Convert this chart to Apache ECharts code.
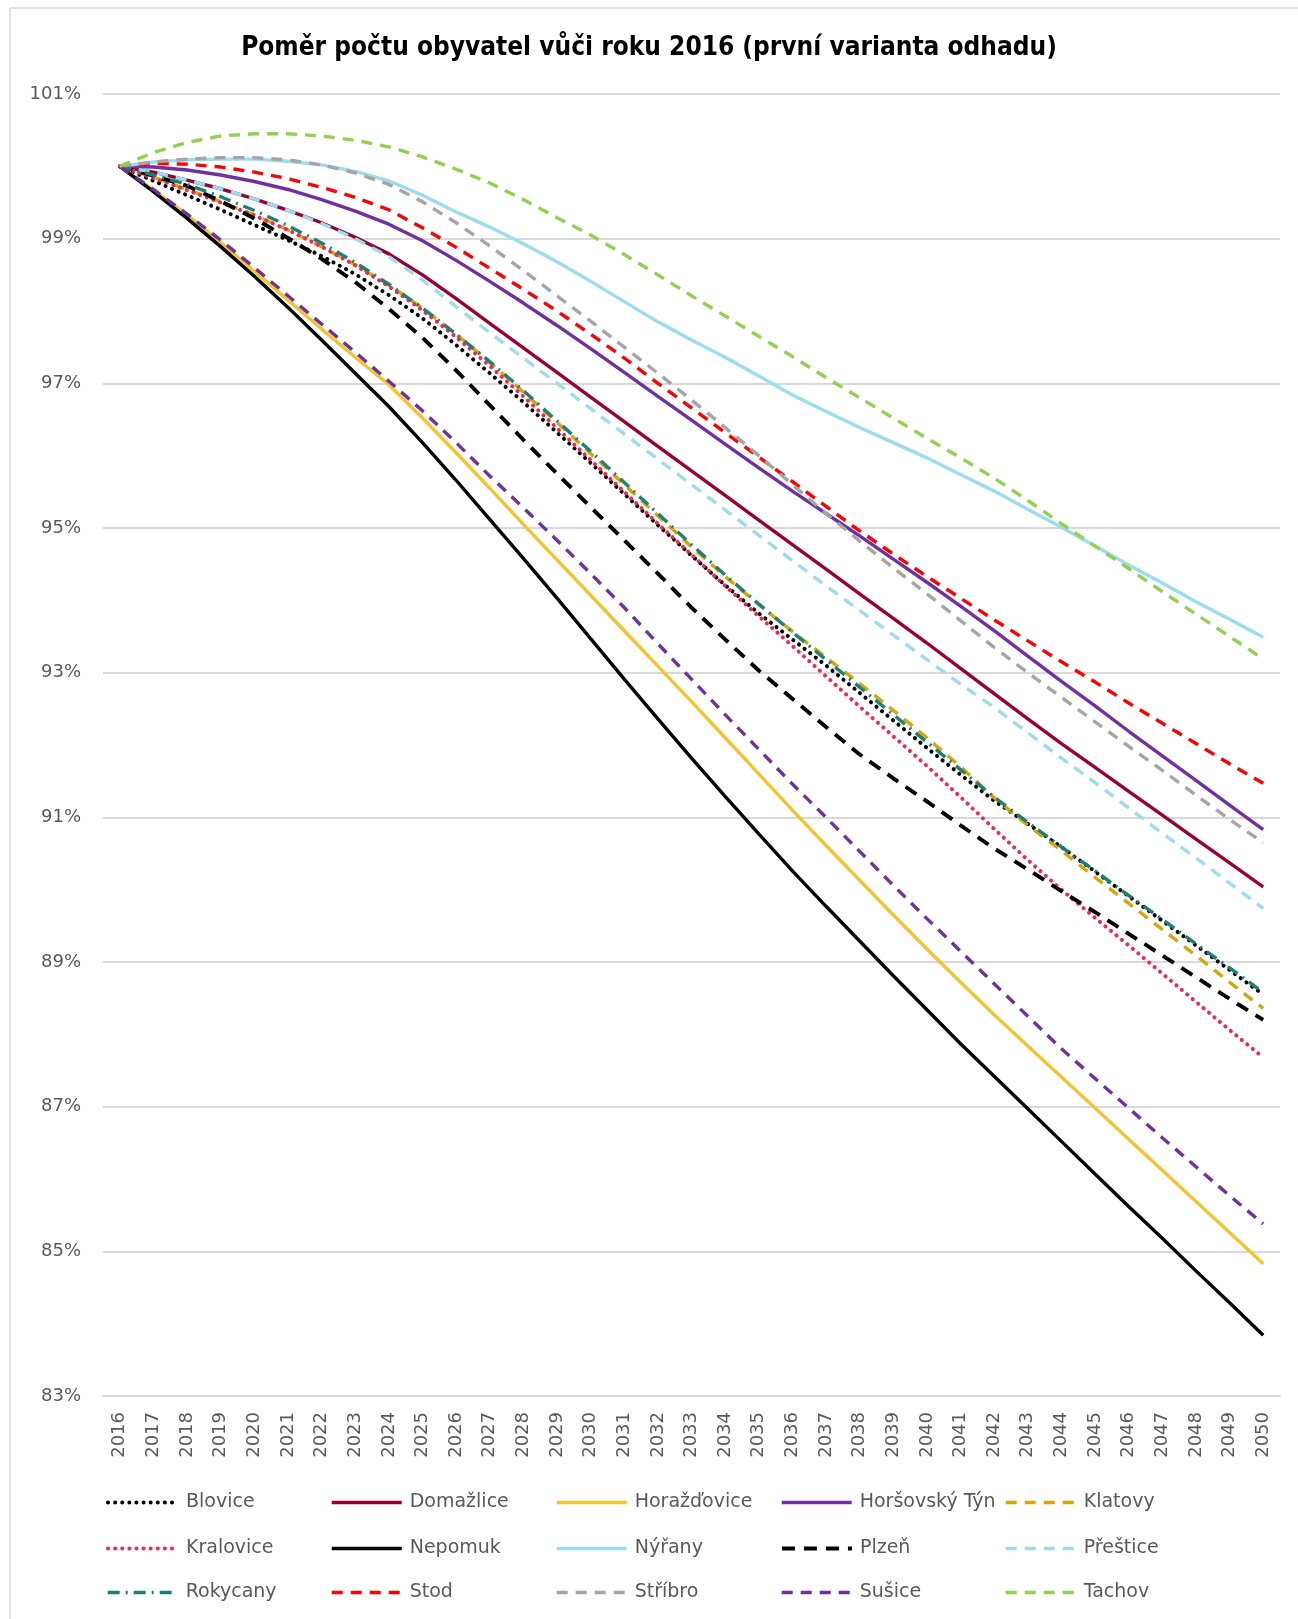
<!DOCTYPE html>
<html>
<head>
<meta charset="utf-8">
<script src="https://cdn.jsdelivr.net/npm/echarts@6/dist/echarts.min.js"></script>
<style>
html,body{margin:0;padding:0;background:#fff;}
#chart{width:1298px;height:1619px;}
</style>
</head>
<body>
<div id="chart"></div>
<script>
const years = ['2016','2017','2018','2019','2020','2021','2022','2023','2024','2025','2026','2027','2028','2029','2030','2031','2032','2033','2034','2035','2036','2037','2038','2039','2040','2041','2042','2043','2044','2045','2046','2047','2048','2049','2050'];

const blovice = [100.00,99.80,99.60,99.40,99.19,98.98,98.76,98.51,98.22,97.90,97.53,97.14,96.74,96.32,95.90,95.47,95.04,94.62,94.21,93.82,93.46,93.10,92.72,92.34,91.96,91.59,91.23,90.91,90.59,90.25,89.91,89.57,89.23,88.89,88.55];
const domazlice = [100.00,99.92,99.81,99.69,99.55,99.39,99.22,99.02,98.79,98.50,98.17,97.83,97.49,97.15,96.81,96.47,96.13,95.79,95.45,95.11,94.77,94.43,94.09,93.75,93.41,93.06,92.71,92.36,92.02,91.69,91.36,91.03,90.70,90.37,90.04];
const horazdovice = [100.00,99.67,99.33,98.95,98.55,98.15,97.75,97.36,96.98,96.52,96.04,95.55,95.05,94.56,94.07,93.58,93.09,92.60,92.10,91.60,91.10,90.61,90.13,89.65,89.18,88.72,88.27,87.84,87.41,86.98,86.55,86.12,85.69,85.26,84.83];
const horsovskyTyn = [100.00,99.99,99.95,99.88,99.79,99.68,99.54,99.38,99.20,98.97,98.70,98.41,98.11,97.80,97.48,97.15,96.82,96.49,96.16,95.83,95.51,95.20,94.89,94.57,94.25,93.92,93.58,93.23,92.88,92.54,92.19,91.85,91.51,91.17,90.83];
const klatovy = [100.00,99.85,99.68,99.51,99.33,99.12,98.89,98.64,98.36,98.04,97.68,97.29,96.88,96.46,96.03,95.60,95.17,94.74,94.33,93.94,93.57,93.21,92.85,92.48,92.10,91.70,91.27,90.89,90.54,90.17,89.81,89.45,89.09,88.72,88.36];
const kralovice = [100.00,99.84,99.67,99.50,99.32,99.12,98.89,98.63,98.34,98.01,97.64,97.24,96.82,96.38,95.94,95.50,95.06,94.63,94.20,93.78,93.37,92.95,92.53,92.12,91.71,91.28,90.84,90.41,90.00,89.61,89.23,88.84,88.45,88.06,87.68];
const nepomuk = [100.00,99.65,99.28,98.89,98.48,98.05,97.60,97.14,96.68,96.18,95.66,95.12,94.58,94.03,93.47,92.91,92.36,91.82,91.29,90.77,90.26,89.77,89.29,88.81,88.34,87.87,87.42,86.97,86.52,86.07,85.62,85.18,84.73,84.29,83.84];
const nyrany = [100.00,100.06,100.09,100.10,100.10,100.07,100.02,99.93,99.80,99.60,99.37,99.16,98.93,98.68,98.41,98.13,97.85,97.60,97.36,97.10,96.84,96.61,96.39,96.18,95.97,95.74,95.51,95.26,95.01,94.75,94.49,94.24,93.98,93.74,93.49];
const plzen = [100.00,99.87,99.73,99.52,99.28,99.01,98.72,98.40,98.03,97.63,97.18,96.70,96.22,95.75,95.29,94.83,94.37,93.90,93.46,93.03,92.64,92.25,91.87,91.54,91.22,90.89,90.57,90.28,89.98,89.69,89.39,89.09,88.79,88.49,88.20];
const prestice = [100.00,99.92,99.81,99.69,99.55,99.39,99.21,99.00,98.75,98.43,98.06,97.70,97.35,97.00,96.65,96.30,95.95,95.60,95.25,94.90,94.55,94.20,93.86,93.52,93.18,92.84,92.52,92.17,91.82,91.48,91.13,90.78,90.44,90.09,89.74];
const rokycany = [100.00,99.88,99.75,99.58,99.39,99.18,98.94,98.67,98.37,98.04,97.68,97.30,96.90,96.48,96.06,95.63,95.20,94.77,94.35,93.95,93.56,93.18,92.80,92.42,92.04,91.66,91.28,90.93,90.59,90.26,89.92,89.59,89.25,88.92,88.58];
const stod = [100.00,100.04,100.03,99.99,99.92,99.83,99.71,99.57,99.40,99.15,98.88,98.59,98.30,98.00,97.68,97.35,97.00,96.66,96.32,95.98,95.64,95.30,94.96,94.64,94.33,94.03,93.73,93.44,93.15,92.87,92.58,92.30,92.02,91.74,91.47];
const stribro = [100.00,100.06,100.10,100.12,100.12,100.09,100.02,99.91,99.75,99.51,99.22,98.90,98.56,98.21,97.86,97.50,97.14,96.77,96.39,96.00,95.60,95.20,94.82,94.45,94.09,93.72,93.35,93.00,92.66,92.32,91.98,91.65,91.31,90.97,90.65];
const susice = [100.00,99.68,99.34,98.98,98.60,98.21,97.82,97.43,97.03,96.62,96.18,95.72,95.28,94.83,94.37,93.90,93.40,92.91,92.42,91.94,91.46,91.00,90.53,90.06,89.60,89.15,88.70,88.25,87.80,87.39,86.98,86.57,86.17,85.77,85.38];
const tachov = [100.00,100.19,100.33,100.42,100.45,100.45,100.42,100.36,100.27,100.13,99.96,99.77,99.54,99.29,99.05,98.78,98.50,98.21,97.93,97.65,97.37,97.08,96.80,96.52,96.24,95.97,95.69,95.38,95.06,94.75,94.44,94.12,93.81,93.50,93.19];

const yTicks = {min: 83, max: 101, interval: 2};

const seriesDefs = [
  {name:'Blovice', data:blovice, color:'#000000', type:[0.1,7], width:4, cap:'round'},
  {name:'Domažlice', data:domazlice, color:'#990033', type:'solid', width:3.4},
  {name:'Horažďovice', data:horazdovice, color:'#F2C433', type:'solid', width:3.4},
  {name:'Horšovský Týn', data:horsovskyTyn, color:'#7030A0', type:'solid', width:3.4},
  {name:'Klatovy', data:klatovy, color:'#D4A80C', type:[11,8], width:3.4},
  {name:'Kralovice', data:kralovice, color:'#F0284F', type:[0.1,7], width:4, cap:'round'},
  {name:'Nepomuk', data:nepomuk, color:'#000000', type:'solid', width:3.4},
  {name:'Nýřany', data:nyrany, color:'#9DDBEF', type:'solid', width:3.4},
  {name:'Plzeň', data:plzen, color:'#000000', type:[13,9], width:3.9},
  {name:'Přeštice', data:prestice, color:'#9DDBEF', type:[11,8], width:3.4},
  {name:'Rokycany', data:rokycany, color:'#1F7F74', type:[12,6,2,6], width:3.4},
  {name:'Stod', data:stod, color:'#FF0000', type:[11,8], width:3.4},
  {name:'Stříbro', data:stribro, color:'#A5A5A5', type:[11,8], width:3.4},
  {name:'Sušice', data:susice, color:'#7030A0', type:[11,8], width:3.4},
  {name:'Tachov', data:tachov, color:'#92D050', type:[11,8], width:3.4}
];

const FONT = "'DejaVu Sans', sans-serif";
const TITLE_FONT = "'DejaVu Sans Condensed', 'DejaVu Sans', sans-serif";

const legendCols = [106, 330, 555, 780, 1004];
const legendRows = [1493, 1539, 1583];

const names = seriesDefs.map(s => s.name);
const legends = names.map((n, i) => ({
  data: [n],
  left: legendCols[i % 5],
  top: legendRows[Math.floor(i / 5)],
  orient: 'horizontal',
  padding: 0,
  itemWidth: 70,
  itemHeight: 14,
  selectedMode: false,
  itemStyle: {opacity: 0},
  lineStyle: {width: 'inherit'},
  textStyle: {fontFamily: FONT, fontSize: 19, color: '#595959', padding: [0, 0, 0, 3]}
}));

const chart = echarts.init(document.getElementById('chart'), null, {renderer: 'canvas'});
chart.setOption({
  backgroundColor: '#ffffff',
  animation: false,
  title: {
    text: 'Poměr počtu obyvatel vůči roku 2016 (první varianta odhadu)',
    left: 'center',
    top: 35,
    padding: 0,
    textStyle: {fontFamily: TITLE_FONT, fontWeight: 'bold', fontSize: 26, color: '#000000'}
  },
  graphic: [
    {type: 'line', shape: {x1: 10, y1: 8, x2: 1298, y2: 8}, style: {stroke: '#D9D9D9', lineWidth: 1.5}, silent: true},
    {type: 'line', shape: {x1: 10, y1: 8, x2: 10, y2: 1619}, style: {stroke: '#D9D9D9', lineWidth: 1.5}, silent: true}
  ],
  legend: legends,
  grid: {left: 103, right: 18, top: 94, bottom: 223, containLabel: false},
  xAxis: {
    type: 'category',
    data: years,
    boundaryGap: true,
    axisLine: {show: true, lineStyle: {color: '#D9D9D9', width: 2}},
    axisTick: {show: false},
    axisLabel: {rotate: 90, interval: 0, margin: 16, fontFamily: FONT, fontSize: 18, color: '#595959'}
  },
  yAxis: {
    type: 'value',
    min: yTicks.min,
    max: yTicks.max,
    interval: yTicks.interval,
    axisLine: {show: false},
    axisTick: {show: false},
    splitLine: {lineStyle: {color: '#D9D9D9', width: 2}},
    axisLabel: {formatter: '{value}%', margin: 22, fontFamily: FONT, fontSize: 18, color: '#595959'}
  },
  series: seriesDefs.map(s => ({
    name: s.name,
    type: 'line',
    data: s.data,
    symbol: 'none',
    smooth: false,
    color: s.color,
    lineStyle: {color: s.color, width: s.width, type: s.type, cap: s.cap || 'butt'},
    emphasis: {disabled: true}
  }))
});
</script>
</body>
</html>
